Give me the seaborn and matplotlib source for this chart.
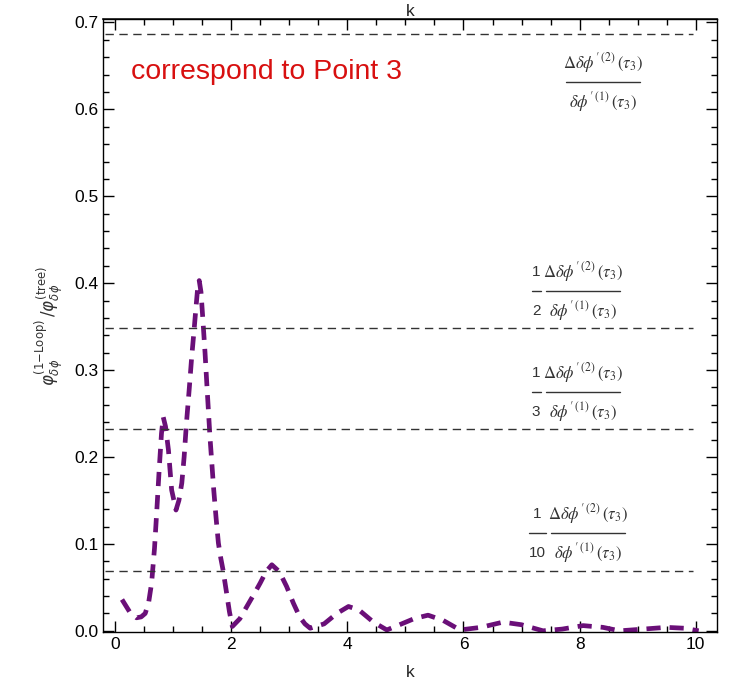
import matplotlib
matplotlib.use("Agg")
import matplotlib.pyplot as plt
import seaborn as sns
import pandas as pd
from matplotlib.ticker import MultipleLocator
from matplotlib.lines import Line2D
from matplotlib.transforms import IdentityTransform

# data
k_vals = [0.12, 0.25, 0.37, 0.45, 0.52, 0.58, 0.63, 0.68, 0.72, 0.76, 0.80, 0.83, 0.87, 0.92, 0.975,
          1.05, 1.10, 1.15, 1.19, 1.23, 1.28, 1.32, 1.36, 1.39, 1.42, 1.45, 1.48, 1.51, 1.55, 1.58,
          1.635, 1.70, 1.74, 1.78, 1.82, 1.86, 1.92, 1.97, 2.02, 2.15, 2.27, 2.40, 2.50, 2.60, 2.70,
          2.83, 2.955, 3.07, 3.18, 3.27, 3.36, 3.60, 3.82, 4.02, 4.20, 4.45, 4.68, 4.90, 5.15, 5.39,
          5.65, 5.94, 6.30, 6.68, 7.00, 7.37, 7.70, 8.06, 8.40, 8.69, 9.10, 9.49, 9.80, 10.05]
ratio_vals = [0.036, 0.022, 0.015, 0.016, 0.020, 0.033, 0.055, 0.095, 0.139, 0.185, 0.227, 0.246, 0.235, 0.208, 0.162,
              0.139, 0.150, 0.170, 0.200, 0.239, 0.280, 0.315, 0.345, 0.369, 0.392, 0.403, 0.390, 0.361, 0.320, 0.285,
              0.223, 0.162, 0.130, 0.101, 0.084, 0.070, 0.044, 0.022, 0.005, 0.014, 0.028, 0.043, 0.055, 0.068, 0.076,
              0.068, 0.051, 0.032, 0.016, 0.008, 0.003, 0.008, 0.020, 0.028, 0.024, 0.010, 0.001, 0.007, 0.014, 0.018,
              0.012, 0.001, 0.004, 0.010, 0.007, 0.000, 0.002, 0.006, 0.004, 0.000, 0.002, 0.004, 0.003, 0.000]

ref_levels = [0.687, 0.349, 0.232, 0.069]
ref_prefix = ["", "2", "3", "10"]          # denominator of the leading 1/n factor
numerator = r"$\Delta\delta\phi'^{\,(2)}\,(\tau_3)$"
denominator = r"$\delta\phi'^{\,(1)}\,(\tau_3)$"
label_x = [8.40, 8.05, 8.05, 8.14]         # centre of the fraction bar
label_y = [0.632, 0.391, 0.275, 0.1126]

sns.set_theme(style="ticks")
plt.rcParams['font.family'] = ['Liberation Sans', 'DejaVu Sans']
plt.rcParams['mathtext.fontset'] = 'dejavusans'

fig = plt.figure(figsize=(7.31, 6.98), dpi=100)
ax = fig.add_axes([0.1409, 0.0950, 0.8395, 0.8778])

df = pd.DataFrame({"k": k_vals, "ratio": ratio_vals})
sns.lineplot(data=df, x="k", y="ratio", ax=ax, color="#6a0f78", lw=3.4,
             dashes=False, linestyle=(0, (3.0, 1.9)), sort=False)

for lvl in ref_levels:
    ax.plot([-0.17, 9.95], [lvl, lvl], color="#333333", lw=1.0, ls=(0, (6, 4)))

ax.text(0.27, 0.643, "correspond to Point 3", color="#d81010", fontsize=20.5,
        ha="left", va="center")

ax.set_xlim(-0.207, 10.36)
ax.set_ylim(-0.001, 0.704)

# stacked fractions (drawn in pixel offsets around the anchor point)
gray = "#333333"
idt = IdentityTransform()
for lx, ly, pre in zip(label_x, label_y, ref_prefix):
    px, py = ax.transData.transform((lx, ly))
    half = 37
    fig.add_artist(Line2D([px - half, px + half], [py, py], transform=idt, color=gray, lw=1.0))
    fig.text(px, py + 19, numerator, transform=idt, ha="center", va="center",
             fontsize=12, color=gray, math_fontfamily="stix")
    fig.text(px, py - 20, denominator, transform=idt, ha="center", va="center",
             fontsize=12, color=gray, math_fontfamily="stix")
    if pre:
        w = 9 if len(pre) == 1 else 17
        cx = px - half - 5 - w / 2
        fig.add_artist(Line2D([cx - w / 2, cx + w / 2], [py, py], transform=idt, color=gray, lw=1.0))
        fig.text(cx, py + 19, "1", transform=idt, ha="center", va="center", fontsize=11, color=gray)
        fig.text(cx, py - 20, pre, transform=idt, ha="center", va="center", fontsize=11, color=gray)

ax.xaxis.set_major_locator(MultipleLocator(2))
ax.xaxis.set_minor_locator(MultipleLocator(0.5))
ax.yaxis.set_major_locator(MultipleLocator(0.1))
ax.yaxis.set_minor_locator(MultipleLocator(0.02))
ax.tick_params(which="both", direction="in", top=True, right=True, color="black", width=1.0)
ax.tick_params(which="major", length=8, labelsize=12.5, labelcolor="black")
ax.tick_params(which="minor", length=4)
ax.set_yticks([0.0, 0.1, 0.2, 0.3, 0.4, 0.5, 0.6, 0.7])
ax.set_yticklabels(["0.0", "0.1", "0.2", "0.3", "0.4", "0.5", "0.6", "0.7"])
for s in ax.spines.values():
    s.set_color("black")
    s.set_linewidth(1.0)

ax.set_xlabel("k", fontsize=12.5, labelpad=10)
ax.set_ylabel(r"$\varphi^{(1\mathrm{-Loop})}_{\delta\phi}\,/\varphi^{(\mathrm{tree})}_{\delta\phi}$",
              fontsize=12, color="#333333", labelpad=6)
top = ax.secondary_xaxis('top')
top.set_xticks([])
top.set_xlabel("k", fontsize=12.5, labelpad=2)

fig.savefig("out.png", dpi=100)
